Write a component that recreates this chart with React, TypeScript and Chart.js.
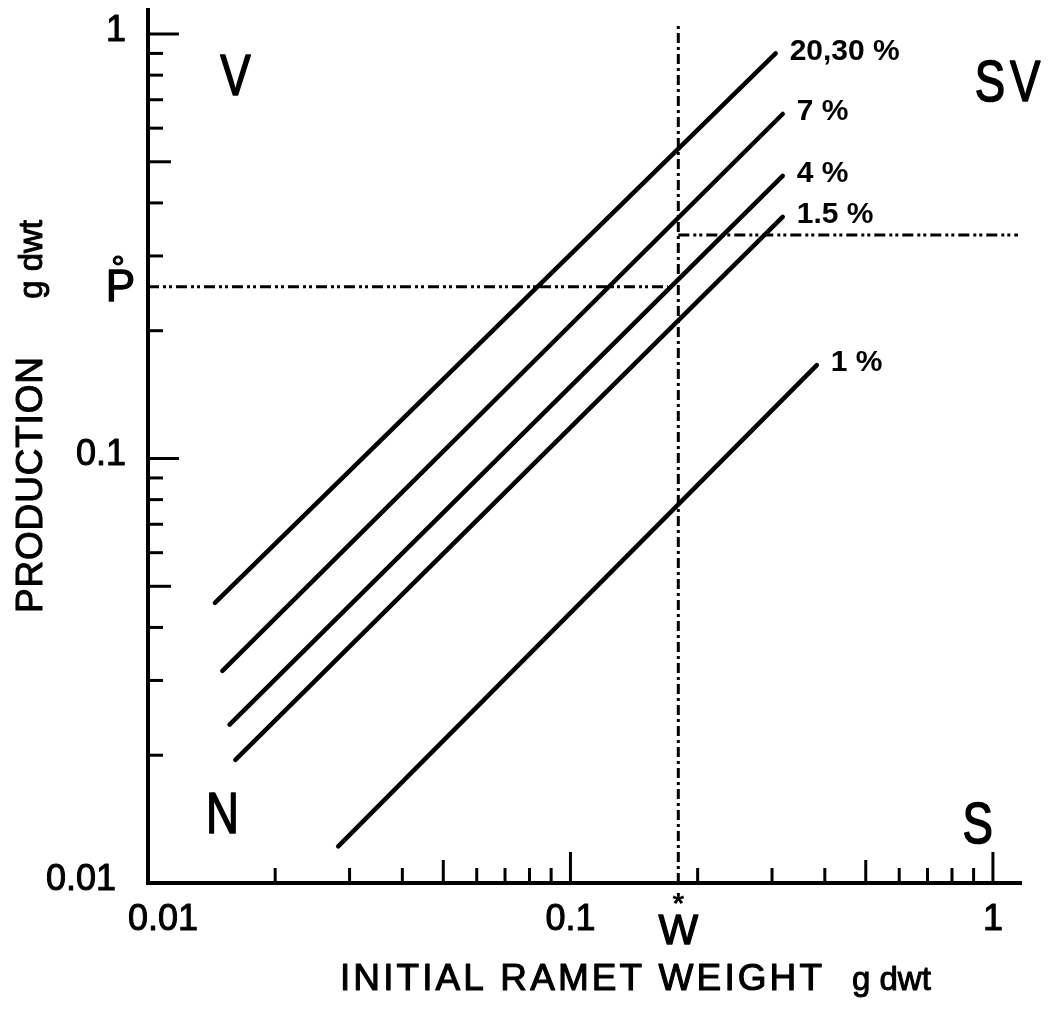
import React, { useEffect, useRef } from 'react';
import { Chart, registerables } from 'chart.js';

Chart.register(...registerables);

// ---- data ----
const seriesLabels = ['20,30 %', '7 %', '4 %', '1.5 %', '1 %'];
const seriesX = [
  [0.0144, 0.306],
  [0.015, 0.318],
  [0.0156, 0.318],
  [0.0161, 0.318],
  [0.0282, 0.383],
];
const seriesY = [
  [0.0457, 0.9],
  [0.0316, 0.648],
  [0.0236, 0.463],
  [0.0195, 0.371],
  [0.0122, 0.166],
];
const wStar = 0.18; // W*
const wLineY = [0.01, 1.05];
const pZero = 0.254; // P°
const pZeroLineX = [0.01, 0.17];
const svLineY = 0.336;
const svLineX = [0.18, 1.146];

const majorTicks = [0.01, 0.1, 1];
const majorTickLabels = ['0.01', '0.1', '1'];
const midTicks = [0.05, 0.5];
const minorTicks = [0.02, 0.03, 0.04, 0.06, 0.07, 0.08, 0.09, 0.2, 0.3, 0.4, 0.6, 0.7, 0.8, 0.9];

const regionLabels = ['V', 'SV', 'N', 'S'];
const regionX = [0.0161, 1.097, 0.015, 0.921];
const regionY = [0.792, 0.767, 0.01446, 0.0137];

const xTitle = 'INITIAL RAMET WEIGHT';
const yTitle = 'PRODUCTION';
const unitText = 'g dwt';

const FONT = "'Liberation Sans', Arial, sans-serif";

function boldText(ctx: CanvasRenderingContext2D, text: string, x: number, y: number, w = 1) {
  ctx.fillText(text, x, y);
  ctx.save();
  ctx.lineWidth = w;
  ctx.lineJoin = 'round';
  ctx.strokeText(text, x, y);
  ctx.restore();
}

function spacedText(ctx: CanvasRenderingContext2D, text: string, x: number, y: number, target: number, w = 1) {
  (ctx as any).letterSpacing = '0px';
  const natural = ctx.measureText(text).width;
  const n = text.length;
  const sp = n > 1 ? (target - natural) / (n - 1) : 0;
  (ctx as any).letterSpacing = sp + 'px';
  boldText(ctx, text, x, y, w);
  (ctx as any).letterSpacing = '0px';
}

const overlay = {
  id: 'overlay',
  afterDraw(chart: any) {
    const ctx: CanvasRenderingContext2D = chart.ctx;
    const xs = chart.scales.x;
    const ys = chart.scales.y;
    const ca = chart.chartArea;
    ctx.save();
    ctx.strokeStyle = '#000';
    ctx.fillStyle = '#000';

    // axes
    ctx.lineWidth = 4;
    ctx.lineCap = 'square';
    ctx.beginPath();
    ctx.moveTo(ca.left, ca.top);
    ctx.lineTo(ca.left, ca.bottom);
    ctx.lineTo(ca.right, ca.bottom);
    ctx.stroke();

    // inward ticks
    ctx.lineWidth = 3;
    ctx.lineCap = 'butt';
    const tickSet: [number, number][] = [];
    majorTicks.forEach((v) => tickSet.push([v, 31]));
    midTicks.forEach((v) => tickSet.push([v, 23]));
    minorTicks.forEach((v) => tickSet.push([v, 15]));
    tickSet.forEach(([v, len]) => {
      if (v > 0.01) {
        const py = ys.getPixelForValue(v);
        ctx.beginPath();
        ctx.moveTo(ca.left, py);
        ctx.lineTo(ca.left + len, py);
        ctx.stroke();
        const px = xs.getPixelForValue(v);
        ctx.beginPath();
        ctx.moveTo(px, ca.bottom);
        ctx.lineTo(px, ca.bottom - len);
        ctx.stroke();
      }
    });

    // tick labels
    ctx.font = `36px ${FONT}`;
    majorTicks.forEach((v, i) => {
      const py = ys.getPixelForValue(v);
      ctx.textAlign = 'right';
      ctx.textBaseline = 'middle';
      boldText(ctx, majorTickLabels[i], ca.left - (i === 0 ? 32 : 22), py - 3);
      const px = xs.getPixelForValue(v);
      ctx.textAlign = i === 0 ? 'left' : 'center';
      ctx.textBaseline = 'middle';
      boldText(ctx, majorTickLabels[i], i === 0 ? px - 20 : px, ca.bottom + 37);
    });

    // P° label
    const pPy = ys.getPixelForValue(pZero);
    ctx.font = `44px ${FONT}`;
    ctx.textAlign = 'right';
    ctx.textBaseline = 'middle';
    boldText(ctx, 'P', ca.left - 13, pPy + 2, 1.3);
    ctx.font = `34px ${FONT}`;
    ctx.textAlign = 'center';
    ctx.textBaseline = 'alphabetic';
    boldText(ctx, '°', ca.left - 30, pPy - 8, 1);

    // W* label
    const wPx = xs.getPixelForValue(wStar);
    ctx.font = `42px ${FONT}`;
    ctx.textAlign = 'center';
    ctx.textBaseline = 'alphabetic';
    boldText(ctx, 'W', wPx, ca.bottom + 61, 1.3);
    ctx.font = `bold 30px ${FONT}`;
    ctx.fillText('*', wPx, ca.bottom + 30);

    // series labels
    ctx.font = `bold 30px ${FONT}`;
    ctx.textAlign = 'left';
    ctx.textBaseline = 'middle';
    seriesLabels.forEach((lab, i) => {
      const px = xs.getPixelForValue(seriesX[i][1]);
      const py = ys.getPixelForValue(seriesY[i][1]);
      ctx.fillText(lab, px + 14, py - 2);
    });

    // region labels
    ctx.font = `57px ${FONT}`;
    ctx.textAlign = 'center';
    ctx.textBaseline = 'middle';
    regionLabels.forEach((lab, i) => {
      const px = xs.getPixelForValue(regionX[i]);
      const py = ys.getPixelForValue(regionY[i]);
      ctx.save();
      ctx.translate(px, py + 2);
      ctx.scale(0.8, 1);
      (ctx as any).letterSpacing = lab.length > 1 ? '6px' : '0px';
      boldText(ctx, lab, 0, 0, 1.6);
      ctx.restore();
    });

    // x-axis title
    ctx.textAlign = 'left';
    ctx.textBaseline = 'alphabetic';
    ctx.font = `37px ${FONT}`;
    spacedText(ctx, xTitle, 340, 990, 482, 1.1);
    ctx.font = `33px ${FONT}`;
    boldText(ctx, unitText, 852, 990, 1);

    // y-axis title (rotated)
    ctx.save();
    ctx.translate(42, 0);
    ctx.rotate(-Math.PI / 2);
    ctx.font = `37px ${FONT}`;
    ctx.textAlign = 'left';
    spacedText(ctx, yTitle, -613, 0, 256, 1.1);
    ctx.font = `33px ${FONT}`;
    ctx.textAlign = 'right';
    boldText(ctx, unitText, -220, 0, 1);
    ctx.restore();

    ctx.restore();
  },
};

export default function App() {
  const ref = useRef<HTMLCanvasElement | null>(null);
  useEffect(() => {
    if (!ref.current) return;
    const solid = seriesLabels.map((lab, i) => ({
      label: lab,
      data: [
        { x: seriesX[i][0], y: seriesY[i][0] },
        { x: seriesX[i][1], y: seriesY[i][1] },
      ],
      showLine: true,
      borderColor: '#000',
      borderWidth: 4.5,
      borderCapStyle: 'round' as const,
      pointRadius: 0,
    }));
    const dashed = [
      {
        label: 'P°',
        data: [
          { x: pZeroLineX[0], y: pZero },
          { x: pZeroLineX[1], y: pZero },
        ],
        borderDash: [11, 4, 3, 3, 3, 4],
      },
      {
        label: 'SV level',
        data: [
          { x: svLineX[0], y: svLineY },
          { x: svLineX[1], y: svLineY },
        ],
        borderDash: [11, 4, 3, 3, 3, 4],
      },
      {
        label: 'W*',
        data: [
          { x: wStar, y: wLineY[0] },
          { x: wStar, y: wLineY[1] },
        ],
        borderDash: [10, 4, 3, 4],
      },
    ].map((d) => ({
      ...d,
      showLine: true,
      borderColor: '#000',
      borderWidth: 3,
      pointRadius: 0,
    }));

    const chart = new Chart(ref.current, {
      type: 'scatter',
      data: { datasets: [...solid, ...dashed] as any },
      options: {
        animation: false,
        responsive: false,
        devicePixelRatio: 1,
        layout: { padding: { left: 148, right: 35, top: 10, bottom: 129 } },
        plugins: { legend: { display: false }, tooltip: { enabled: false } },
        scales: {
          x: { type: 'logarithmic', min: 0.01, max: 1.159, display: false },
          y: { type: 'logarithmic', min: 0.01, max: 1.139, display: false },
        },
      },
      plugins: [overlay],
    });
    return () => chart.destroy();
  }, []);
  return (
    <div style={{ position: 'absolute', left: 0, top: 0, width: 1055, height: 1012, background: '#fff' }}>
      <canvas ref={ref} width={1055} height={1012} />
    </div>
  );
}
